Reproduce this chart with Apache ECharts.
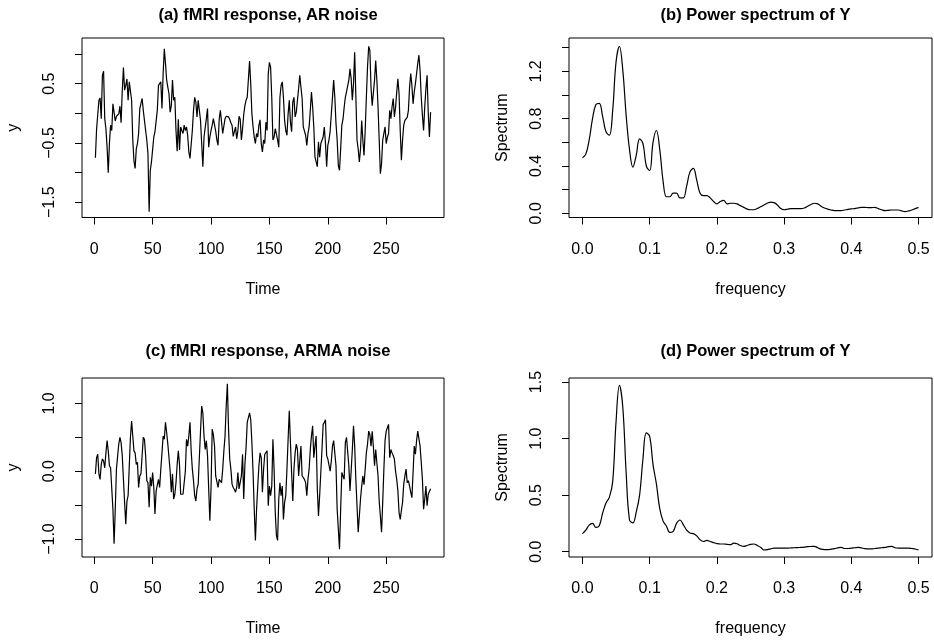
<!DOCTYPE html>
<html><head><meta charset="utf-8">
<script src="https://cdn.jsdelivr.net/npm/echarts@6/dist/echarts.min.js"></script>
<style>html,body{margin:0;padding:0;background:#fff}#c{width:934px;height:642px}</style>
</head><body><div id="c"></div>
<script>
// ---- data ----
const panelTitles = ['(a) fMRI response, AR noise', '(b) Power spectrum of Y', '(c) fMRI response, ARMA noise', '(d) Power spectrum of Y'];
const arNoise = [
-0.75,-0.27,-0.27,0.22,0.26,-0.09,0.64,0.71,-0.09,-0.26,
-0.57,-1.0,-0.51,-0.2,-0.29,0.16,0.16,-0.13,-0.05,-0.06,
-0.01,0.12,-0.16,0.39,0.77,0.39,0.47,0.58,0.22,0.53,
0.5,0.22,-0.45,-0.8,-0.93,-0.6,-0.51,-0.34,0.08,0.11,
0.25,0.05,0.02,-0.29,-0.45,-0.68,-1.66,-0.96,-0.82,-0.82,
-0.4,-0.31,-0.29,0.05,0.47,0.5,0.53,0.08,0.67,1.09,
0.84,0.56,0.44,0.33,0.02,0.13,0.56,0.22,0.27,-0.29,
-0.64,-0.1,-0.62,-0.23,-0.29,-0.34,-0.2,-0.29,-0.23,-0.37,
-0.65,-0.76,-0.76,-0.29,0.05,0.27,0.19,-0.06,0.22,0.22,
-0.12,-0.51,-0.9,-0.4,-0.37,-0.09,0.08,-0.57,-0.4,-0.29,
-0.2,-0.09,-0.09,-0.3,-0.45,-0.54,-0.1,0.05,0.02,-0.34,
-0.37,-0.09,-0.05,-0.04,-0.06,-0.1,-0.16,-0.2,-0.39,-0.4,
-0.23,-0.43,-0.29,-0.05,-0.1,-0.45,-0.26,-0.02,0.13,0.22,
0.27,0.3,0.88,0.5,-0.01,-0.23,-0.4,-0.51,-0.34,-0.4,
-0.2,-0.11,-0.51,-0.65,-0.45,-0.51,-0.15,-0.29,0.67,0.86,
0.78,0.27,-0.45,-0.4,-0.26,-0.26,-0.45,-0.57,0.27,0.47,
0.53,0.27,-0.12,-0.29,-0.37,-0.01,0.22,-0.15,-0.31,0.19,
0.27,-0.06,0.02,0.22,0.42,0.64,0.44,0.25,-0.23,-0.2,
-0.37,-0.54,-0.34,-0.23,0.05,0.36,0.11,-0.23,-0.74,-0.76,
-0.9,-0.48,-0.74,-0.51,-0.54,-0.4,-0.23,-0.51,-0.9,-0.54,
-0.45,-0.3,-0.01,0.27,0.56,0.27,-0.17,-0.45,-0.88,-0.96,
-0.6,-0.2,-0.1,0.1,0.27,0.36,0.33,0.56,0.75,0.58,
0.22,0.5,1.03,0.3,-0.45,-0.6,-0.82,-0.6,-0.12,-0.45,
-0.71,-0.29,0.27,0.78,1.13,1.06,0.44,0.13,0.16,0.56,
0.89,0.56,0.11,-0.45,-1.02,-0.85,-0.45,-0.34,-0.23,-0.51,
-0.4,-0.34,0.05,-0.09,0.11,0.25,-0.06,0.1,0.36,0.58,
0.33,-0.29,-0.79,-0.45,-0.2,-0.12,-0.09,-0.07,0.05,0.44,
0.67,0.47,0.16,0.36,0.5,0.67,0.84,0.98,0.72,0.27,
-0.03,-0.29,0.11,0.42,0.64,0.0,-0.4,0.02
];
const armaNoise = [
-0.04,0.2,0.25,-0.04,-0.12,0.1,0.18,0.15,0.05,0.27,
0.45,0.3,0.08,0.05,0.03,-0.56,-1.07,-0.56,0.03,0.03,
0.4,0.5,0.42,0.23,-0.12,-0.46,-0.78,-0.44,-0.36,0.08,
0.5,0.74,0.52,0.3,0.27,0.1,0.13,-0.24,-0.07,-0.04,
-0.02,0.5,0.47,0.23,-0.14,-0.17,-0.53,-0.09,-0.22,-0.02,
-0.24,-0.63,-0.29,-0.31,-0.12,-0.24,0.03,0.27,0.52,0.47,
0.72,0.57,0.4,0.4,0.0,-0.31,-0.04,-0.41,-0.34,-0.17,
0.1,0.3,0.1,-0.34,-0.35,-0.34,-0.17,0.0,0.47,0.37,
0.52,0.72,0.3,0.03,-0.14,-0.36,-0.44,-0.26,-0.19,-0.17,
0.59,0.96,0.86,0.52,0.32,0.45,0.23,-0.26,-0.73,-0.26,
0.62,0.54,0.37,-0.07,-0.05,-0.24,-0.12,-0.14,-0.17,0.03,
0.3,0.52,0.96,1.29,0.62,0.18,0.03,-0.19,-0.24,-0.27,
-0.31,-0.24,-0.02,-0.26,-0.24,-0.07,0.25,-0.41,0.1,0.35,
0.72,0.74,0.86,0.76,0.42,-0.02,-0.56,-1.02,-0.56,-0.22,
0.08,0.27,0.2,-0.31,0.03,0.25,0.24,0.3,-0.51,-0.22,
-0.36,-0.22,0.47,0.03,-0.61,-0.95,-1.02,-0.41,-0.17,-0.36,
-0.22,-0.71,-0.46,-0.36,0.03,0.47,0.89,0.42,-0.02,-0.44,
0.03,0.27,0.4,0.32,-0.07,-0.07,0.37,-0.07,-0.05,-0.12,
-0.17,-0.36,-0.12,0.03,0.32,0.52,0.67,0.2,0.37,0.52,
-0.26,-0.66,-0.36,-0.02,0.32,0.69,0.72,0.76,0.23,0.18,
0.2,0.0,0.15,0.37,0.45,0.45,0.08,-0.56,-0.85,-1.15,
-0.56,-0.02,-0.07,-0.12,0.42,0.5,0.52,0.08,-0.29,-0.31,
0.32,0.67,0.37,-0.12,-0.51,-0.9,-0.66,-0.41,-0.22,-0.07,
-0.2,0.03,0.27,0.4,0.59,0.54,0.37,0.59,0.37,0.08,
0.32,0.3,-0.07,-0.44,-0.66,-0.9,-0.46,0.03,0.45,0.59,
0.64,0.69,0.2,0.32,0.27,0.23,0.18,0.0,-0.12,-0.29,
-0.61,-0.71,-0.58,-0.46,-0.19,-0.07,0.03,-0.17,-0.14,-0.22,
-0.31,-0.39,-0.02,0.37,0.25,0.45,0.59,0.57,0.37,0.13,
-0.12,-0.56,-0.41,-0.22,-0.51,-0.34,-0.3,-0.26
];
// spectra sampled at frequency 0, 0.005, ..., 0.5
const spectrumB = [
0.47,0.5,0.62,0.8,0.92,0.93,0.82,0.69,0.66,0.87,
1.28,1.41,1.21,0.83,0.54,0.39,0.49,0.63,0.59,0.4,
0.36,0.6,0.7,0.54,0.27,0.14,0.14,0.17,0.17,0.13,
0.13,0.23,0.35,0.38,0.28,0.17,0.15,0.15,0.13,0.1,
0.08,0.1,0.11,0.08,0.085,0.085,0.08,0.065,0.05,0.035,
0.03,0.03,0.04,0.055,0.07,0.085,0.095,0.09,0.07,0.04,
0.03,0.034,0.04,0.04,0.04,0.04,0.045,0.06,0.075,0.085,
0.08,0.06,0.045,0.035,0.028,0.023,0.022,0.023,0.028,0.033,
0.037,0.04,0.045,0.05,0.05,0.048,0.048,0.05,0.04,0.03,
0.023,0.025,0.028,0.028,0.028,0.02,0.014,0.02,0.028,0.04,
0.05
];
const spectrumD = [
0.16,0.19,0.235,0.25,0.215,0.23,0.34,0.43,0.48,0.62,
1.15,1.47,1.28,0.7,0.28,0.255,0.35,0.5,0.82,1.05,
1.02,0.77,0.6,0.38,0.27,0.225,0.17,0.18,0.25,0.28,
0.24,0.19,0.165,0.16,0.14,0.105,0.09,0.1,0.09,0.08,
0.072,0.068,0.068,0.065,0.062,0.075,0.07,0.055,0.047,0.055,
0.064,0.068,0.055,0.04,0.015,0.018,0.025,0.032,0.032,0.032,
0.032,0.032,0.033,0.035,0.036,0.038,0.04,0.044,0.046,0.047,
0.035,0.022,0.018,0.018,0.022,0.027,0.034,0.038,0.028,0.028,
0.032,0.035,0.038,0.033,0.027,0.025,0.024,0.028,0.032,0.035,
0.038,0.044,0.047,0.035,0.032,0.032,0.032,0.032,0.028,0.024,
0.015
];
const timeTicks = [0, 50, 100, 150, 200, 250];
const freqTicks = [0, 0.1, 0.2, 0.3, 0.4, 0.5];
const yTicksA = [-1.5, -1, -0.5, 0, 0.5, 1];
const yLabelsA = [-1.5, -0.5, 0.5];
const yTicksB = [0, 0.2, 0.4, 0.6, 0.8, 1.0, 1.2, 1.4];
const yLabelsB = [0, 0.4, 0.8, 1.2];
const yTicksC = [-1, -0.5, 0, 0.5, 1];
const yLabelsC = [-1, 0, 1];
const yTicksD = [0, 0.5, 1, 1.5];
const yLabelsD = [0, 0.5, 1, 1.5];

// ---- build ----
const timeIdx = arNoise.map((_, i) => i + 1);
const freqIdx = spectrumB.map((_, i) => i * 0.005);
const FONT = '"Liberation Sans", Arial, Helvetica, sans-serif';
const FS = 16;
const boxes = [
  {left: 82, top: 38, width: 362, height: 179.5},
  {left: 569, top: 38, width: 363, height: 179.5},
  {left: 82, top: 378, width: 362, height: 179},
  {left: 569, top: 378, width: 363, height: 179}
];
const fmt1 = v => (v < 0 ? '\u2212' : '') + Math.abs(v).toFixed(1);
const fmt0 = v => String(Math.round(v));

function xAx(i, min, max, ticks, fmt, name) {
  return {
    type: 'value', gridIndex: i, min, max, name, nameLocation: 'middle', nameGap: 64,
    nameTextStyle: {fontFamily: FONT, fontSize: FS, color: '#000'},
    axisLine: {show: false, onZero: false}, splitLine: {show: false},
    axisTick: {show: true, inside: false, length: 7, lineStyle: {color: '#000', width: 1}, customValues: ticks},
    axisLabel: {customValues: ticks, formatter: fmt, margin: 24, fontFamily: FONT, fontSize: FS, color: '#000'}
  };
}
function yAx(i, min, max, ticks, labels, name, gap) {
  return {
    type: 'value', gridIndex: i, min, max, name, nameLocation: 'middle', nameGap: gap, nameRotate: 90,
    nameTextStyle: {fontFamily: FONT, fontSize: FS, color: '#000'},
    axisLine: {show: false, onZero: false}, splitLine: {show: false},
    axisTick: {show: true, inside: false, length: 7, lineStyle: {color: '#000', width: 1}, customValues: ticks},
    axisLabel: {customValues: labels, formatter: fmt1, rotate: 90, margin: 24, fontFamily: FONT, fontSize: FS, color: '#000'}
  };
}
const lineS = (i, xs, ys, smooth) => ({
  type: 'line', xAxisIndex: i, yAxisIndex: i, showSymbol: false, smooth: smooth,
  data: xs.map((x, k) => [x, ys[k]]),
  lineStyle: {color: '#000', width: 1.2}, animation: false
});

const option = {
  backgroundColor: '#fff',
  animation: false,
  title: boxes.map((b, i) => ({
    text: panelTitles[i], left: b.left + b.width / 2, textAlign: 'center', top: i < 2 ? 2 : 338,
    textStyle: {fontFamily: FONT, fontSize: 16.5, fontWeight: 'bold', color: '#000'}
  })),
  grid: boxes.map(b => ({left: b.left, top: b.top, width: b.width, height: b.height, show: true,
    borderColor: '#000', borderWidth: 1, backgroundColor: 'transparent', containLabel: false})),
  xAxis: [
    xAx(0, -10.48, 299.48, timeTicks, fmt0, 'Time'),
    xAx(1, -0.02, 0.52, freqTicks, fmt1, 'frequency'),
    xAx(2, -10.48, 299.48, timeTicks, fmt0, 'Time'),
    xAx(3, -0.02, 0.52, freqTicks, fmt1, 'frequency')
  ],
  yAxis: [
    yAx(0, -1.757, 1.27, yTicksA, yLabelsA, 'y', 60),
    yAx(1, -0.0355, 1.482, yTicksB, yLabelsB, 'Spectrum', 58),
    yAx(2, -1.265, 1.374, yTicksC, yLabelsC, 'y', 60),
    yAx(3, -0.047, 1.536, yTicksD, yLabelsD, 'Spectrum', 58)
  ],
  series: [
    lineS(0, timeIdx, arNoise, false),
    lineS(1, freqIdx, spectrumB, 0.4),
    lineS(2, timeIdx, armaNoise, false),
    lineS(3, freqIdx, spectrumD, 0.4)
  ]
};
const chart = echarts.init(document.getElementById('c'), null, {renderer: 'canvas'});
chart.setOption(option);
</script></body></html>
